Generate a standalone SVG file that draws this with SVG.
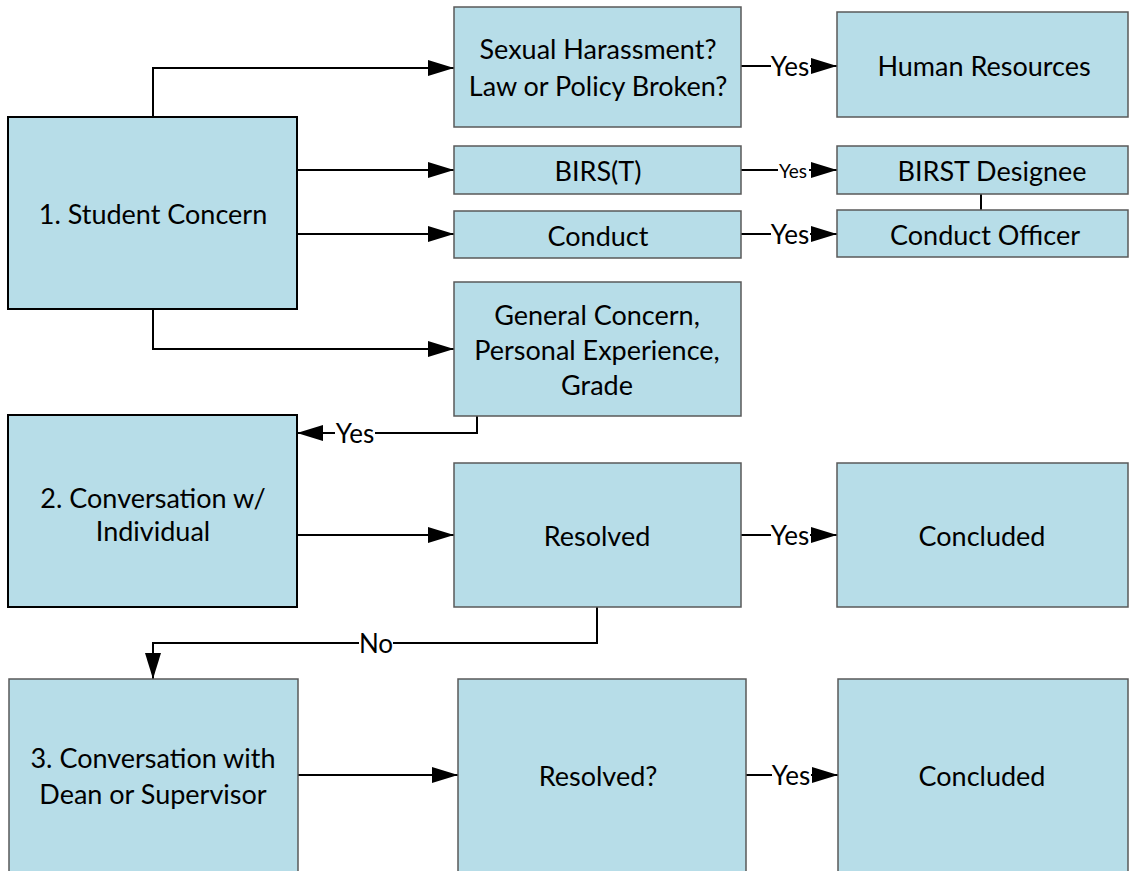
<svg xmlns="http://www.w3.org/2000/svg" width="1130" height="871" viewBox="0 0 1130 871">
<style>
  .box { fill: #b7dde8; stroke: #595959; stroke-width: 1.5; }
  .boxd { fill: #b7dde8; stroke: #000; stroke-width: 2; }
  .t { font-family: Lato, "Liberation Sans", sans-serif; font-size: 27px; fill: #000; text-anchor: middle; dominant-baseline: central; }
  .lbl { font-family: Lato, "Liberation Sans", sans-serif; font-size: 26px; fill: #000; text-anchor: middle; dominant-baseline: central; }
  .lbls { font-family: Lato, "Liberation Sans", sans-serif; font-size: 19px; fill: #000; text-anchor: middle; dominant-baseline: central; }
  .c { fill: none; stroke: #000; stroke-width: 2; }
  .bg { fill: #fff; }
</style>
<defs>
  <marker id="arr" viewBox="0 0 26 16" refX="26" refY="8" markerWidth="26" markerHeight="16" markerUnits="userSpaceOnUse" orient="auto">
    <path d="M0,0 L26,8 L0,16 z" fill="#000"/>
  </marker>
</defs>
<rect width="1130" height="871" fill="#fff"/>

<g id="connectors">
  <path class="c" d="M153,117 V68 H454" marker-end="url(#arr)"/>
  <path class="c" d="M297,170 H454" marker-end="url(#arr)"/>
  <path class="c" d="M297,234 H454" marker-end="url(#arr)"/>
  <path class="c" d="M153,309 V349 H454" marker-end="url(#arr)"/>

  <path class="c" d="M741,66 H837" marker-end="url(#arr)"/>
  <rect class="bg" x="771" y="54" width="39" height="24"/>
  <text class="lbl" x="790" y="66">Yes</text>

  <path class="c" d="M741,170 H837" marker-end="url(#arr)"/>
  <rect class="bg" x="778" y="162" width="31" height="16"/>
  <text class="lbls" x="793" y="170">Yes</text>

  <path class="c" d="M741,234 H837" marker-end="url(#arr)"/>
  <rect class="bg" x="771" y="222" width="39" height="24"/>
  <text class="lbl" x="790" y="234">Yes</text>

  <path class="c" d="M981,194 V210"/>

  <path class="c" d="M477,416 V433 H297" marker-end="url(#arr)"/>
  <rect class="bg" x="335" y="421" width="40" height="24"/>
  <text class="lbl" x="355" y="433">Yes</text>

  <path class="c" d="M297,535 H454" marker-end="url(#arr)"/>

  <path class="c" d="M741,535 H837" marker-end="url(#arr)"/>
  <rect class="bg" x="771" y="523" width="39" height="24"/>
  <text class="lbl" x="790" y="535">Yes</text>

  <path class="c" d="M597,607 V643 H153 V679" marker-end="url(#arr)"/>
  <rect class="bg" x="359" y="631" width="34" height="24"/>
  <text class="lbl" x="376" y="643">No</text>

  <path class="c" d="M298,775 H458" marker-end="url(#arr)"/>

  <path class="c" d="M746,775 H838" marker-end="url(#arr)"/>
  <rect class="bg" x="772" y="763" width="39" height="24"/>
  <text class="lbl" x="791" y="775">Yes</text>
</g>

<g id="n1">
  <rect class="boxd" x="8" y="117" width="289" height="192"/>
  <text class="t" x="153" y="213">1. Student Concern</text>
</g>
<g id="n-sh">
  <rect class="box" x="454" y="7" width="287" height="120"/>
  <text class="t" x="598" y="48">Sexual Harassment?</text>
  <text class="t" x="598" y="85">Law or Policy Broken?</text>
</g>
<g id="n-hr">
  <rect class="box" x="837" y="12" width="291" height="105"/>
  <text class="t" x="984" y="65">Human Resources</text>
</g>
<g id="n-birs">
  <rect class="box" x="454" y="146" width="287" height="48"/>
  <text class="t" x="598" y="170">BIRS(T)</text>
</g>
<g id="n-birst">
  <rect class="box" x="837" y="146" width="291" height="48"/>
  <text class="t" x="992" y="170">BIRST Designee</text>
</g>
<g id="n-conduct">
  <rect class="box" x="454" y="211" width="287" height="47"/>
  <text class="t" x="598" y="235">Conduct</text>
</g>
<g id="n-officer">
  <rect class="box" x="837" y="210" width="291" height="47"/>
  <text class="t" x="985" y="234">Conduct Officer</text>
</g>
<g id="n-general">
  <rect class="box" x="454" y="282" width="287" height="134"/>
  <text class="t" x="597" y="314">General Concern,</text>
  <text class="t" x="597" y="349">Personal Experience,</text>
  <text class="t" x="597" y="384">Grade</text>
</g>
<g id="n2">
  <rect class="boxd" x="8" y="415" width="289" height="192"/>
  <text class="t" x="153" y="497">2. Conversation w/</text>
  <text class="t" x="153" y="530">Individual</text>
</g>
<g id="n-resolved">
  <rect class="box" x="454" y="463" width="287" height="144"/>
  <text class="t" x="597" y="535">Resolved</text>
</g>
<g id="n-concluded1">
  <rect class="box" x="837" y="463" width="291" height="144"/>
  <text class="t" x="982" y="535">Concluded</text>
</g>
<g id="n3">
  <rect class="box" x="9" y="679" width="289" height="193"/>
  <text class="t" x="153" y="757">3. Conversation with</text>
  <text class="t" x="153" y="793">Dean or Supervisor</text>
</g>
<g id="n-resolved2">
  <rect class="box" x="458" y="679" width="288" height="193"/>
  <text class="t" x="598" y="775">Resolved?</text>
</g>
<g id="n-concluded2">
  <rect class="box" x="838" y="679" width="290" height="193"/>
  <text class="t" x="982" y="775">Concluded</text>
</g>
</svg>
